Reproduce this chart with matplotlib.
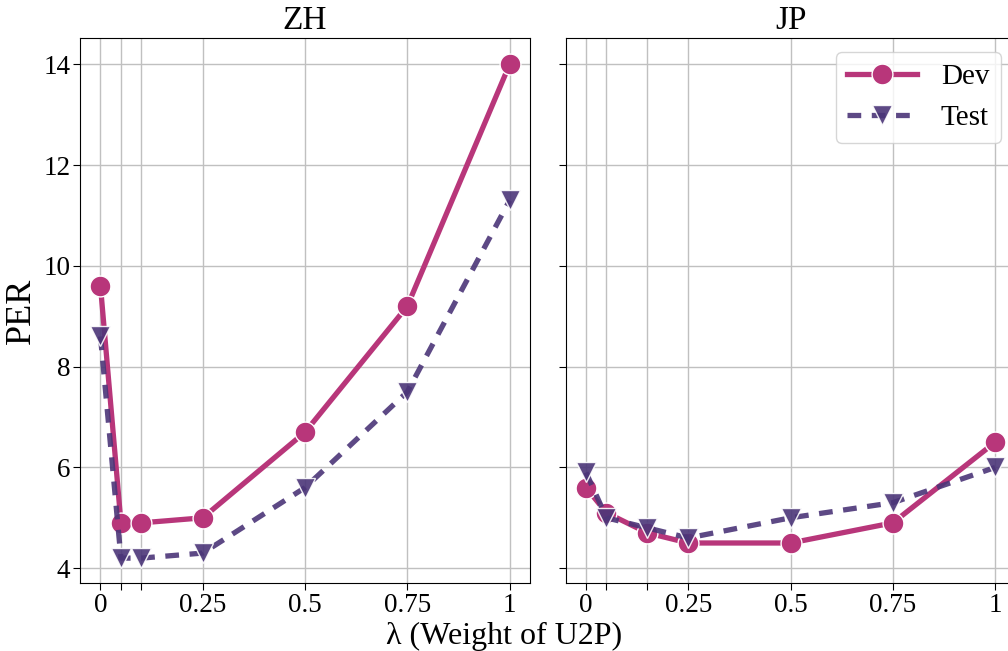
import matplotlib
matplotlib.use("Agg")
import matplotlib.pyplot as plt

plt.rcParams['font.family'] = ['Liberation Serif', 'DejaVu Serif']

# data
zh_x = [0, 0.05, 0.1, 0.25, 0.5, 0.75, 1]
zh_dev = [9.6, 4.9, 4.9, 5.0, 6.7, 9.2, 14.0]
zh_test = [8.6, 4.2, 4.2, 4.3, 5.6, 7.5, 11.3]

jp_x = [0, 0.05, 0.15, 0.25, 0.5, 0.75, 1]
jp_dev = [5.6, 5.1, 4.7, 4.5, 4.5, 4.9, 6.5]
jp_test = [5.9, 5.0, 4.8, 4.6, 5.0, 5.3, 6.0]

tick_names = ["0", "", "", "0.25", "0.5", "0.75", "1"]
y_ticks = [4, 6, 8, 10, 12, 14]

dev_color = '#b8367a'
test_color = '#4b3578'

fig, axes = plt.subplots(1, 2, figsize=(10.08, 6.51), dpi=100, sharey=True)
fig.subplots_adjust(left=0.0794, right=1.0075, top=0.942, bottom=0.104, wspace=0.079)

panels = [("ZH", zh_x, zh_dev, zh_test), ("JP", jp_x, jp_dev, jp_test)]
for ax, (name, xs, dev, test) in zip(axes, panels):
    ax.plot(xs, dev, '-', color=dev_color, lw=3.8, marker='o', ms=15,
            mec='white', mew=1, label='Dev', zorder=3)
    ax.plot(xs, test, '--', color=test_color, lw=3.8, marker='v', ms=15,
            mec='white', mew=1, alpha=0.9, dashes=(2.6, 2.0),
            label='Test', zorder=3)
    ax.set_title(name, fontsize=24, pad=6)
    ax.set_xticks(xs)
    ax.set_xticklabels(tick_names)
    ax.set_yticks(y_ticks)
    ax.grid(True, color='#c0c0c0', lw=1)
    ax.set_axisbelow(True)
    ax.tick_params(labelsize=19.5, length=5, pad=2)
    ax.set_xlim(-0.05, 1.05)
    ax.set_ylim(3.7, 14.53)

axes[0].set_ylabel("PER", fontsize=26)
axes[1].legend(loc='upper right', fontsize=21, handlelength=2.4,
               borderaxespad=0.5, fancybox=True)
fig.text(0.5, 0.0, "λ (Weight of U2P)", ha='center', va='bottom', fontsize=23)

plt.savefig("out.png")
